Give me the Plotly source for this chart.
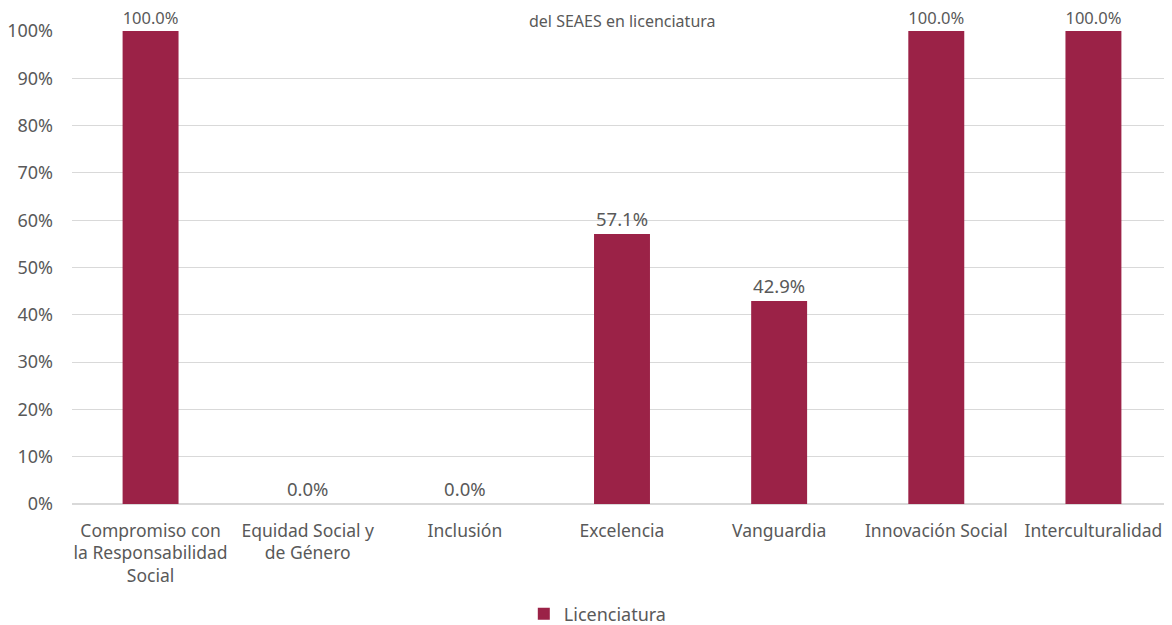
import plotly.graph_objects as go

categories = ["Compromiso con<br>la Responsabilidad<br>Social", "Equidad Social y<br>de Género", "Inclusión",
              "Excelencia", "Vanguardia", "Innovación Social", "Interculturalidad"]
values = [1.0, 0.0, 0.0, 0.571, 0.429, 1.0, 1.0]
series_name = "Licenciatura"
title_text = "del SEAES en licenciatura"

fig = go.Figure()
fig.add_trace(go.Bar(
    x=list(range(len(categories))), y=values, name=series_name,
    marker=dict(color="#9B2247", line=dict(width=0)),
    width=0.356,
    text=[f"{v*100:.1f}%" for v in values], textposition="outside",
    textfont=dict(size=18.5, color="#595959"), cliponaxis=False,
    showlegend=True,
))

fig.add_annotation(text=title_text, x=0.5, xref="paper", y=1.0, yref="paper",
                   yshift=23, yanchor="top", showarrow=False,
                   font=dict(size=16, color="#595959"))

fig.update_layout(
    width=1172, height=625,
    margin=dict(l=64, r=8, t=23, b=129, autoexpand=False),
    paper_bgcolor="white", plot_bgcolor="white",
    font=dict(family="Noto Sans, Open Sans, sans-serif", color="#595959", size=18),
    xaxis=dict(range=[-0.5, 6.5], tickmode="array", tickvals=list(range(len(categories))),
               ticktext=categories, showgrid=False, showline=False, ticks="",
               automargin=False, ticklabelstandoff=14, ticklabeloverflow="allow",
               tickfont=dict(size=17.5, color="#595959")),
    yaxis=dict(range=[0, 1.0], tickformat=".0%", dtick=0.1, showgrid=True,
               gridcolor="#d9d9d9", gridwidth=1, zeroline=True, zerolinecolor="#d9d9d9",
               showline=False, ticks="", ticklabelstandoff=18, automargin=False,
               tickfont=dict(size=18, color="#595959")),
    legend=dict(orientation="h", x=0.478, xanchor="center", y=-0.2326, yanchor="middle",
                font=dict(size=18, color="#595959"), itemwidth=30),
    bargap=0.6,
)

fig.write_html("out.html")
